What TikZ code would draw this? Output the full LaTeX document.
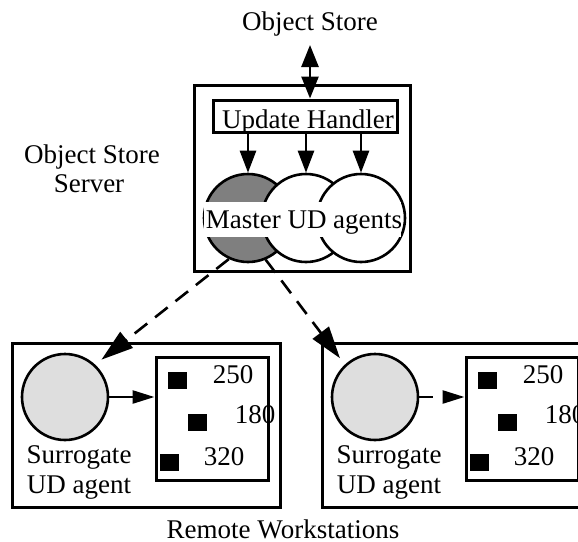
\documentclass[tikz,border=0pt]{standalone}
\usepackage{fontspec}
\setmainfont{Liberation Serif}
\usetikzlibrary{arrows.meta}
\definecolor{masterfill}{HTML}{7F7F7F}
\definecolor{surrfill}{HTML}{DEDEDE}
\begin{document}
\begin{tikzpicture}[x=0.5pt,y=-0.5pt,
  lbl/.style={font=\fontsize{13.5}{15}\selectfont, inner sep=0pt, anchor=base},
  box/.style={draw, line width=1.5pt, inner sep=0pt},
  agent/.style={circle, draw, line width=1.3pt, minimum size=44pt, inner sep=0pt},
  surr/.style={circle, draw, line width=1.3pt, minimum size=43pt, inner sep=0pt, fill=surrfill},
  obj/.style={fill=black, minimum width=9.5pt, minimum height=8.5pt, inner sep=0pt},
  arr/.style={-{Triangle[length=11pt,width=8pt]}, line width=1.3pt},
  darr/.style={{Triangle[length=11pt,width=8.5pt]}-{Triangle[length=11pt,width=8.5pt]}, line width=1.3pt},
  dasharr/.style={-{Triangle[length=16pt,width=10pt]}, line width=1.3pt, dash pattern=on 8pt off 5pt},
  smallarr/.style={-{Triangle[length=11pt,width=6.5pt]}, line width=1.3pt}]
\useasboundingbox (0,0) rectangle (578,541);
\clip (0,0) rectangle (578,541);

% server side
\node[lbl] (ostore) at (310,30) {Object Store};
\node[lbl] (srvlabA) at (92,163) {Object Store};
\node[lbl] (srvlabB) at (89,192) {Server};
\node[box, minimum width=108pt, minimum height=93pt] (srv) at (302,178) {};
\node[box, minimum width=92pt, minimum height=16pt] (uh) at (305,116) {};
\node[lbl] (uhlab) at (308,128) {Update Handler};

\node[agent, fill=masterfill] (m1) at (248,218) {};
\node[agent, fill=white] (m2) at (306,218) {};
\node[agent, fill=white] (m3) at (361,218) {};
\fill[white] (204,202) rectangle (401,237);
\node[lbl] (mlab) at (304,228) {Master UD agents};

\coordinate (ostip) at (310,45);
\draw[darr] (ostip) -- (uh.north -| ostip);
\foreach \m in {m1,m2,m3}
  \draw[arr] (uh.south -| \m.north) -- (\m.north);

% remote workstations
\foreach \dx/\n in {0/1,310/2} {
  \node[box, minimum width=134pt, minimum height=82pt] (ws\n) at (146+\dx,425) {};
  \node[box, minimum width=56pt, minimum height=61.5pt] (view\n) at (212+\dx,418.5) {};
  \node[surr] (surr\n) at (65+\dx,397) {};
  \node[lbl] (surrA\n) at (79+\dx,463) {Surrogate};
  \node[lbl] (surrB\n) at (79+\dx,493) {UD agent};
  \node[obj] (oa\n) at (177.5+\dx,380) {};
  \node[obj] (ob\n) at (197.5+\dx,422.5) {};
  \node[obj] (oc\n) at (169.5+\dx,462.5) {};
  \node[lbl] (va\n) at (233+\dx,383) {250};
  \node[lbl] (vb\n) at (255+\dx,423) {180};
  \node[lbl] (vc\n) at (224+\dx,465) {320};
}
\draw[smallarr] (surr1.east) -- (surr1.east -| view1.west);
\draw[smallarr, dash pattern=on 7pt off 5pt] (surr2.east) -- (surr2.east -| view2.west);

\draw[dasharr, shorten >=4pt] (m1.-115) -- (surr1.47);
\draw[dasharr, shorten >=4pt] (m1.-67) -- (surr2.133);

\node[lbl] (remote) at (283,538) {Remote Workstations};
\end{tikzpicture}
\end{document}
